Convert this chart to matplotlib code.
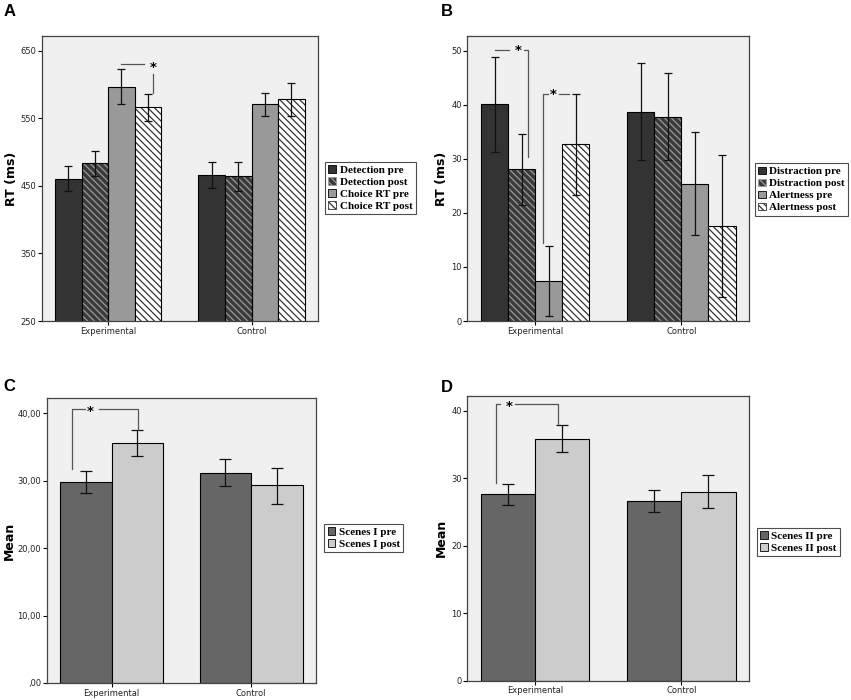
import numpy as np
import matplotlib
matplotlib.use("Agg")
import matplotlib.pyplot as plt
from matplotlib.patches import Patch

plt.rcParams['hatch.linewidth'] = 0.9

groups = ["Experimental", "Control"]

# Panel A: detection / choice reaction times
a_labels = ["Detection pre", "Detection post", "Choice RT pre", "Choice RT post"]
a_means = [[460, 466], [484, 464], [597, 571], [567, 578]]
a_low = [[443, 447], [465, 443], [571, 553], [546, 553]]
a_high = [[479, 485], [502, 485], [623, 588], [586, 602]]

# Panel B: distraction / alertness
b_labels = ["Distraction pre", "Distraction post", "Alertness pre", "Alertness post"]
b_means = [[40.2, 38.6], [28.1, 37.8], [7.4, 25.4], [32.7, 17.6]]
b_low = [[31.3, 29.7], [21.4, 29.8], [1.0, 15.9], [23.3, 4.5]]
b_high = [[48.9, 47.7], [34.6, 45.9], [13.8, 34.9], [41.9, 30.7]]

# Panel C: Scenes I
c_labels = ["Scenes I pre", "Scenes I post"]
c_means = [[29.8, 31.2], [35.6, 29.3]]
c_low = [[28.2, 29.2], [33.6, 26.6]]
c_high = [[31.35, 33.2], [37.5, 31.9]]

# Panel D: Scenes II
d_labels = ["Scenes II pre", "Scenes II post"]
d_means = [[27.6, 26.6], [35.8, 28.0]]
d_low = [[26.0, 24.96], [33.8, 25.5]]
d_high = [[29.1, 28.3], [37.9, 30.5]]

# bar styles (face, hatch colour, hatch)
style4 = [("#333333", None, None), ("#3a3a3a", "#9a9a9a", "\\\\\\\\\\"),
          ("#999999", None, None), ("#ffffff", "#333333", "\\\\\\\\\\")]
style2 = [("#666666", None, None), ("#cccccc", None, None)]

serif = "Liberation Serif"
sans = "DejaVu Sans"


def draw_panel(rect, letter, letter_xy, means, low, high, labels, styles, ylim, yticks,
               yticklabels, ylabel, labelpad, capsize, leg_anchor):
    ax = fig.add_axes(rect)
    ax.set_facecolor("#f0f0f0")
    n = len(means)
    w = 0.74 / n
    x = np.arange(len(groups))
    for i in range(n):
        pos = x + (i - (n - 1) / 2) * w
        face, hcol, hatch = styles[i]
        if hatch:
            ax.bar(pos, means[i], w, color=face, edgecolor=hcol, hatch=hatch, linewidth=0, zorder=2)
            ax.bar(pos, means[i], w, fill=False, edgecolor="black", linewidth=0.8, zorder=3)
        else:
            ax.bar(pos, means[i], w, color=face, edgecolor="black", linewidth=0.8, zorder=2)
        m = np.array(means[i])
        err = [m - np.array(low[i]), np.array(high[i]) - m]
        ax.errorbar(pos, m, yerr=err, fmt="none", ecolor="#111111", elinewidth=0.9,
                    capsize=capsize, capthick=0.9, zorder=4)
    ax.set_xlim(-0.464, 1.464)
    ax.set_ylim(*ylim)
    ax.set_xticks(x)
    ax.set_xticklabels(groups, fontsize=6, family=sans, color="#222222")
    ax.set_yticks(yticks)
    ax.set_yticklabels(yticklabels, fontsize=6, family=sans, color="#222222")
    ax.tick_params(length=3, width=0.8, pad=1)
    for s in ax.spines.values():
        s.set_color("#444444")
        s.set_linewidth(0.9)
    ax.set_ylabel(ylabel, fontsize=9, fontweight="bold", family=sans, labelpad=labelpad)
    handles = []
    for i in range(n):
        face, hcol, hatch = styles[i]
        if hatch:
            handles.append(Patch(facecolor=face, edgecolor=hcol, hatch=hatch, linewidth=0.6))
        else:
            handles.append(Patch(facecolor=face, edgecolor="black", linewidth=0.6))
    leg = fig.legend(handles, labels, loc="upper left", bbox_to_anchor=leg_anchor,
                     prop={"family": serif, "weight": "bold", "size": 8},
                     fancybox=False, frameon=True, handlelength=0.7, handleheight=0.7,
                     handletextpad=0.3, labelspacing=0.2, borderpad=0.3, borderaxespad=0)
    leg.get_frame().set_edgecolor("#222222")
    leg.get_frame().set_linewidth(0.8)
    fig.text(letter_xy[0], letter_xy[1], letter, fontsize=12,
             fontweight="bold", family="Liberation Sans", va="top")
    return ax, w


def bracket(ax, xs, ys, color="#555555"):
    ax.plot(xs, ys, color=color, linewidth=0.9, zorder=5)


def star(ax, x, y):
    ax.text(x, y, "*", fontsize=9.5, fontweight="bold", ha="center", va="center", zorder=6)


fig = plt.figure(figsize=(8.51, 7.0), dpi=100)

# A
axA, w = draw_panel([0.049, 0.5414, 0.3247, 0.4072], "A", (0.004, 0.994),
                    a_means, a_low, a_high, a_labels,
                    style4, (250, 672), [250, 350, 450, 550, 650],
                    ["250", "350", "450", "550", "650"], "RT (ms)", 1.5, 2.8, (0.382, 0.7686))
c_pre = 0.5 * w
c_post = 1.5 * w
bracket(axA, [c_pre, 0.247], [630, 630])
star(axA, c_post + 0.035, 625)
bracket(axA, [c_post + 0.035, c_post + 0.035], [615, 587])

# B
axB, w = draw_panel([0.5491, 0.5414, 0.3314, 0.4072], "B", (0.5175, 0.994),
                    b_means, b_low, b_high, b_labels,
                    style4, (0, 52.7), [0, 10, 20, 30, 40, 50],
                    ["0", "10", "20", "30", "40", "50"], "RT (ms)", 2.5, 2.8, (0.8872, 0.7667))
bracket(axB, [-1.5 * w, -0.179], [50.2, 50.2])
star(axB, -0.115, 50.0)
bracket(axB, [-0.076, -0.046, -0.046], [50.2, 50.2, 30.4])
bracket(axB, [0.055, 0.055, 0.085], [14.5, 42.0, 42.0])
star(axB, 0.126, 41.8)
bracket(axB, [0.165, 0.229], [42.0, 42.0])

# C
axC, w = draw_panel([0.0549, 0.0243, 0.3164, 0.4067], "C", (0.004, 0.459),
                    c_means, c_low, c_high, c_labels,
                    style2, (0, 42.2), [0, 10, 20, 30, 40],
                    [",00", "10,00", "20,00", "30,00", "40,00"], "Mean", 1.0, 4.5, (0.3811, 0.2519))
bracket(axC, [-0.28, -0.28, -0.192], [31.75, 40.6, 40.6])
star(axC, -0.151, 40.3)
bracket(axC, [-0.089, 0.191, 0.191], [40.6, 40.6, 37.5])

# D
axD, w = draw_panel([0.5491, 0.0276, 0.3314, 0.4071], "D", (0.5175, 0.457),
                    d_means, d_low, d_high, d_labels,
                    style2, (0, 42.2), [0, 10, 20, 30, 40],
                    ["0", "10", "20", "30", "40"], "Mean", 2.5, 4.5, (0.8892, 0.2461))
bracket(axD, [-0.27, -0.27, -0.24], [29.2, 40.9, 40.9])
star(axD, -0.179, 40.6)
bracket(axD, [-0.137, 0.158, 0.158], [40.9, 40.9, 37.95])

fig.savefig("out.png", dpi=100)
